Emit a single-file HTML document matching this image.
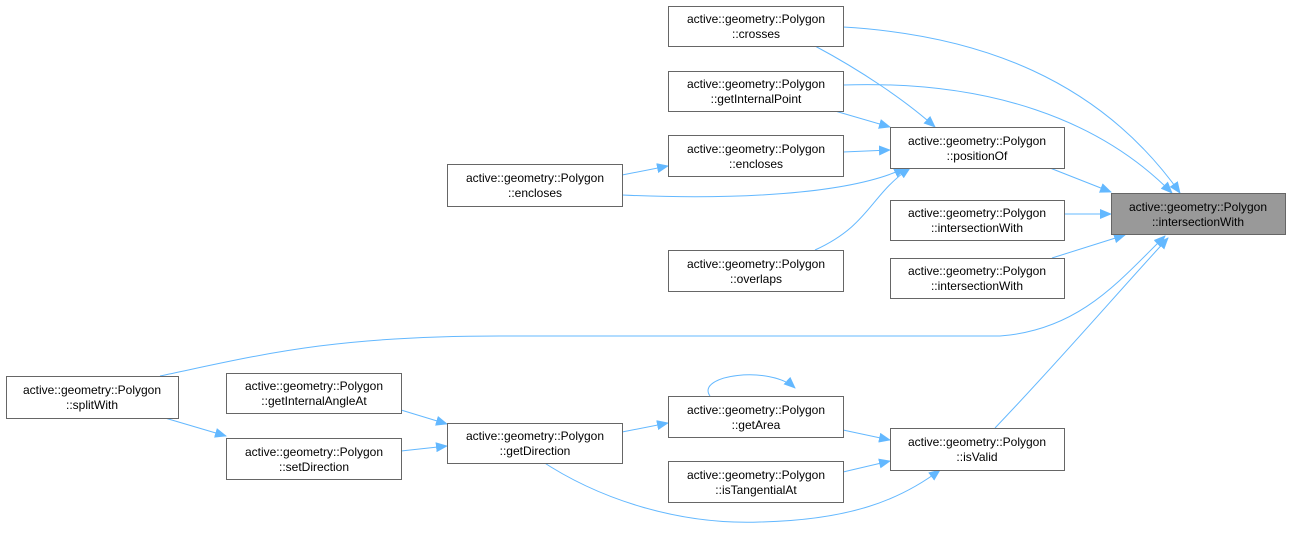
<!DOCTYPE html>
<html><head><meta charset="utf-8"><style>
body{margin:0;background:#fff;}
svg{display:block;}
text{font-family:"Liberation Sans",Helvetica,sans-serif;font-size:12px;fill:#000;}
</style></head><body>
<svg width="1291" height="534" viewBox="0 0 1291 534" xmlns="http://www.w3.org/2000/svg">
<defs>
<marker id="a" markerWidth="12" markerHeight="10" refX="11" refY="5" orient="auto" markerUnits="userSpaceOnUse">
<path d="M0,0 L12,5 L0,10 Z" fill="#63b8ff"/>
</marker>
</defs>
<g fill="none" stroke="#63b8ff" stroke-width="1" marker-end="url(#a)">
<path d="M843,27 C980,35 1100,80 1180,193"/>
<path d="M843,85 C990,80 1100,120 1172,193"/>
<path d="M1050,168 L1111,192"/>
<path d="M1064,214 L1111,214"/>
<path d="M1052,258 L1125,235"/>
<path d="M160,376 C260,355 330,336 500,336 L1000,336 C1080,330 1120,280 1165,236"/>
<path d="M995,428 C1060,360 1120,290 1168,238"/>
<path d="M815,46 C860,70 905,100 935,127"/>
<path d="M835,111 L890,127"/>
<path d="M843,152 L890,150"/>
<path d="M622,175 L668,166"/>
<path d="M622,195 C730,200 850,195 905,168"/>
<path d="M815,250 C870,225 870,195 910,168"/>
<path d="M710,396 C695,375 770,365 795,388"/>
<path d="M843,430 L890,440"/>
<path d="M843,472 L890,461"/>
<path d="M622,432 L668,423"/>
<path d="M540,460 C600,500 680,525 760,522 C850,520 900,500 940,470"/>
<path d="M401,410 L447,424"/>
<path d="M401,451 L447,446"/>
<path d="M165,418 L226,436"/>
</g>
<g stroke="#666" stroke-width="1" fill="#fff">
<rect x="668.5" y="6.5" width="175" height="40"/>
<rect x="668.5" y="71.5" width="175" height="40"/>
<rect x="668.5" y="135.5" width="175" height="41"/>
<rect x="447.5" y="164.5" width="175" height="42"/>
<rect x="668.5" y="250.5" width="175" height="41"/>
<rect x="890.5" y="127.5" width="174" height="41"/>
<rect x="1111.5" y="193.5" width="174" height="41" fill="#999"/>
<rect x="890.5" y="200.5" width="174" height="40"/>
<rect x="890.5" y="258.5" width="174" height="40"/>
<rect x="6.5" y="376.5" width="172" height="42"/>
<rect x="226.5" y="373.5" width="175" height="40"/>
<rect x="226.5" y="438.5" width="175" height="41"/>
<rect x="447.5" y="423.5" width="175" height="40"/>
<rect x="668.5" y="396.5" width="175" height="41"/>
<rect x="668.5" y="461.5" width="175" height="41"/>
<rect x="890.5" y="428.5" width="174" height="42"/>
</g>
<g text-anchor="middle">
<text x="756" y="23">active::geometry::Polygon</text><text x="756" y="38">::crosses</text>
<text x="756" y="88">active::geometry::Polygon</text><text x="756" y="103">::getInternalPoint</text>
<text x="756" y="153">active::geometry::Polygon</text><text x="756" y="168">::encloses</text>
<text x="535" y="182">active::geometry::Polygon</text><text x="535" y="197">::encloses</text>
<text x="756" y="268">active::geometry::Polygon</text><text x="756" y="283">::overlaps</text>
<text x="977" y="145">active::geometry::Polygon</text><text x="977" y="160">::positionOf</text>
<text x="1198" y="211">active::geometry::Polygon</text><text x="1198" y="226">::intersectionWith</text>
<text x="977" y="217">active::geometry::Polygon</text><text x="977" y="232">::intersectionWith</text>
<text x="977" y="275">active::geometry::Polygon</text><text x="977" y="290">::intersectionWith</text>
<text x="92" y="394">active::geometry::Polygon</text><text x="92" y="409">::splitWith</text>
<text x="314" y="390">active::geometry::Polygon</text><text x="314" y="405">::getInternalAngleAt</text>
<text x="314" y="456">active::geometry::Polygon</text><text x="314" y="471">::setDirection</text>
<text x="535" y="440">active::geometry::Polygon</text><text x="535" y="455">::getDirection</text>
<text x="756" y="414">active::geometry::Polygon</text><text x="756" y="429">::getArea</text>
<text x="756" y="479">active::geometry::Polygon</text><text x="756" y="494">::isTangentialAt</text>
<text x="977" y="446">active::geometry::Polygon</text><text x="977" y="461">::isValid</text>
</g>
</svg>
</body></html>
